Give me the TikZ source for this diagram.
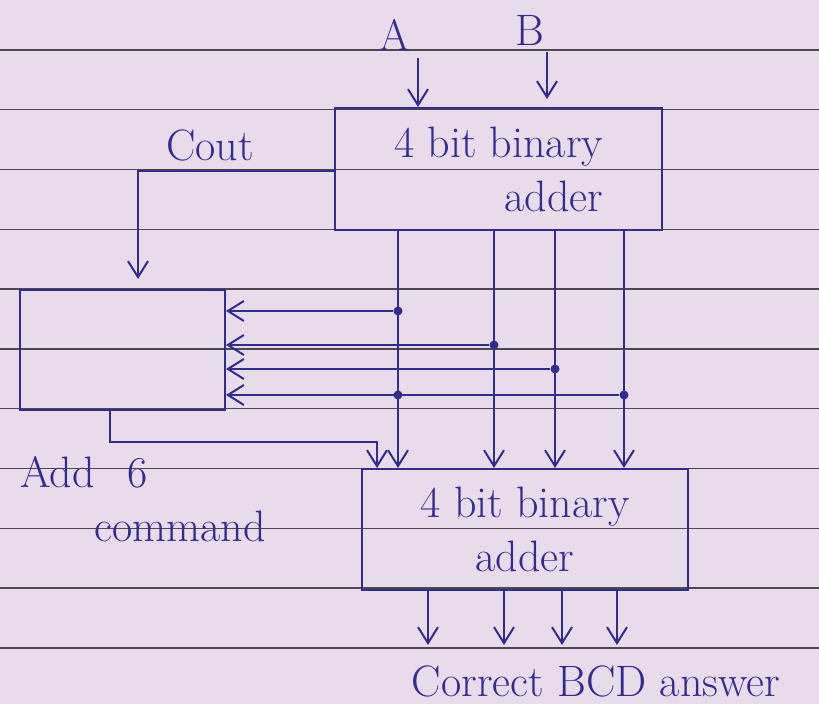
\documentclass[tikz,border=0pt]{standalone}
\usetikzlibrary{arrows.meta, positioning, calc}

\definecolor{paper}{RGB}{233,220,234}
\definecolor{ink}{RGB}{48,44,150}
\definecolor{ruling}{RGB}{75,72,78}

\begin{document}
\begin{tikzpicture}[
    x=0.5pt, y=-0.5pt,
    every node/.style={font=\fontsize{22}{27}\selectfont, text=ink},
    block/.style={draw=ink, line width=1pt, inner sep=0pt},
    wire/.style={draw=ink, line width=1pt},
    arrow/.style={wire, -{Straight Barb[length=8pt, width=10pt]}},
    junction/.style={circle, fill=ink, inner sep=0pt, minimum size=4.5pt}
]

% ============ PAPER ============
\useasboundingbox (0,0) rectangle (819,704);
\fill[paper] (0,0) rectangle (819,704);
\foreach \k in {0,...,10} {
    \draw[ruling, line width=0.7pt] (0,50+\k*59.8) -- (819,50+\k*59.8);
}

% ============ BLOCKS ============
\node[block, minimum width=163.5pt, minimum height=61pt, align=right] (add1) at (498.5,169) {4 bit binary\\adder};
\node[block, minimum width=102.5pt, minimum height=60pt] (corr) at (122.5,350) {};
\node[block, minimum width=163pt, minimum height=60.5pt, align=center] (add2) at (525,529.5) {4 bit binary\\adder};

% ============ LABELS ============
\node (inA) at (395,35) {A};
\node (inB) at (530,30) {B};
\node (cout) at (210,145) {Cout};
\node[anchor=west, inner sep=0pt, align=left] (add6) at (20,499) {Add \hspace{10pt}6\\\hspace{37pt}command};
\node[inner sep=0pt] (answer) at (596,681) {Correct BCD answer};

% ============ INPUTS ============
\coordinate (a0) at (418,58);
\coordinate (b0) at (547,52);
\draw[arrow] (a0) -- (a0 |- add1.north);
\draw[arrow, shorten >=4pt] (b0) -- (b0 |- add1.north);

% carry out into the correction logic
\coordinate (c1) at (138,171);
\draw[arrow, shorten >=5pt] (add1.west |- c1) -- (c1) -- (c1 |- corr.north);

% ============ SUM BITS ============
\foreach \x [count=\i] in {398,494,555,624} {
    \coordinate (s\i) at (\x,230);
    \draw[arrow] (s\i) -- (s\i |- add2.north);
}

% taps into the correction logic
\foreach \i/\x/\y in {1/398/311, 2/494/345, 3/555/369, 4/624/395} {
    \node[junction] (j\i) at (\x,\y) {};
    \draw[arrow] (j\i) -- (j\i -| corr.east);
}
\node[junction] (j5) at (398,395) {};

% add 6 command
\coordinate (k1) at (110,442);
\coordinate (k2) at (377,442);
\draw[arrow] (k1 |- corr.south) -- (k1) -- (k2) -- (k2 |- add2.north);

% ============ OUTPUTS ============
\foreach \x [count=\i] in {428,504,562,617} {
    \coordinate (o\i) at (\x,645);
    \draw[arrow] (o\i |- add2.south) -- (o\i);
}

\end{tikzpicture}
\end{document}
